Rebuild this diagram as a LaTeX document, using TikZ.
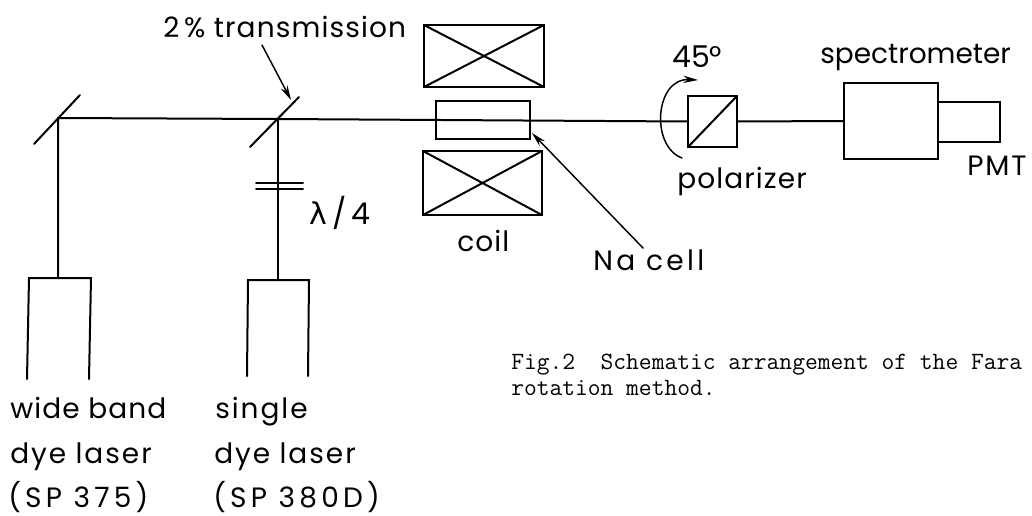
\documentclass[tikz,border=0pt]{standalone}
\usepackage{fontspec}
\newfontfamily\labA{Poppins}
\newfontfamily\labB[LetterSpace=4]{Poppins}
\newfontfamily\labC[LetterSpace=7]{Poppins}
\newfontfamily\labD[LetterSpace=12]{Poppins}
\newfontfamily\labE[LetterSpace=15]{Poppins}
\newfontfamily\lamfont{DejaVu Sans}
\usetikzlibrary{arrows.meta}
\begin{document}
\begin{tikzpicture}[x=0.75pt,y=-0.75pt,
  ln/.style={line width=1.5pt,line cap=round},
  thn/.style={line width=1.1pt,line cap=round},
  lbl/.style={inner sep=0pt,anchor=base west,font=#1\fontsize{21}{23}\selectfont},
  big/.style={inner sep=0pt,anchor=base west,font=\labA\fontsize{22.5}{24}\selectfont},
  captxt/.style={inner sep=0pt,anchor=base west,font=\ttfamily\fontsize{18.6}{21}\selectfont},
  box/.style 2 args={draw,line width=1.5pt,inner sep=0pt,outer sep=0pt,minimum width=#1*0.75pt,minimum height=#2*0.75pt},
  arr/.style={thn,-{Stealth[length=11pt,width=5.5pt]}}]
\useasboundingbox (0,0) rectangle (1032,515);
\clip (0,0) rectangle (1032,515);
% mirrors and points on them
\coordinate (m1a) at (34,144);
\coordinate (m1b) at (80,95);
\coordinate (m1) at (58,118);
\coordinate (m2a) at (250,147);
\coordinate (m2b) at (299,97);
\coordinate (m2) at (278,119);
\draw[ln] (m1a) -- (m1b);
\draw[ln] (m2a) -- (m2b);
% lasers
\coordinate (l1bl) at (27,379);
\coordinate (l1tl) at (29,278);
\coordinate (l1t) at (58,278);
\coordinate (l1tr) at (91,278);
\coordinate (l1br) at (89,379);
\coordinate (l2bl) at (247,376);
\coordinate (l2tl) at (248,280);
\coordinate (l2t) at (278,280);
\coordinate (l2tr) at (309,280);
\coordinate (l2br) at (308,376);
\draw[ln] (l1bl) -- (l1tl) -- (l1tr) -- (l1br);
\draw[ln] (l2bl) -- (l2tl) -- (l2tr) -- (l2br);
% coils and cell
\node[box={120}{62}] (cu) at (484,56) {};
\node[box={119}{64}] (cl) at (482.5,183) {};
\node[box={94}{38}] (cell) at (483,120) {};
\draw[ln] (cu.north west) -- (cu.south east) (cu.south west) -- (cu.north east);
\draw[ln] (cl.north west) -- (cl.south east) (cl.south west) -- (cl.north east);
% polarizer, spectrometer, PMT
\node[box={49}{51}] (pol) at (712.5,121.5) {};
\draw[ln] (pol.south west) -- (pol.north east);
\node[box={94}{76}] (spec) at (891,121) {};
\node[box={62}{40}] (pmt) at (969,122) {};
% beam
\draw[ln] (l1t) -- (m1) -- (m2);
\draw[ln] (m2) -- (pol.west);
\draw[ln] (pol.east) -- (spec.west);
\draw[ln] (l2t) -- (m2);
% wave plate
\coordinate (wa1) at (256,183);
\coordinate (wb1) at (303,183);
\coordinate (wa2) at (256,189);
\coordinate (wb2) at (303,189);
\draw[ln] (wa1) -- (wb1);
\draw[ln] (wa2) -- (wb2);
% labels
\node[lbl=\labB] (t2) at (163,37) {2\,\% transmission};
\node[big] (tlam) at (309,224) {{\lamfont λ}\,/\,4};
\node[lbl=\labB] (tcoil) at (457,251) {coil};
\node[lbl=\labD] (tna) at (593,270) {Na cell};
\node[big] (t45) at (672,67) {45°};
\node[lbl=\labB] (tpol) at (677,188) {polarizer};
\node[lbl=\labA] (tspec) at (820,63) {spectrometer};
\node[lbl=\labC] (tpmt) at (967,175) {PMT};
\node[lbl=\labB] (w1) at (10,418) {wide band};
\node[lbl=\labC] (w2) at (10,463) {dye laser};
\node[lbl=\labE] (w3) at (8,507) {(SP 375)};
\node[lbl=\labC] (s1) at (215,418) {single};
\node[lbl=\labC] (s2) at (214,463) {dye laser};
\node[lbl=\labE] (s3) at (213,507) {(SP 380D)};
\node[captxt] (c1) at (511,369) {Fig.2~~Schematic arrangement of the Fara};
\node[captxt] (c2) at (511,395) {rotation method.};
% pointers
\coordinate (a2s) at (262,45);
\coordinate (a2e) at (291,100);
\draw[arr] (a2s) -- (a2e);
\coordinate (ans) at (643,248);
\coordinate (ane) at (532,133);
\draw[arr] (ans) -- (ane);
% rotation
\coordinate (r1) at (682,158);
\coordinate (r2) at (698,80);
\draw[arr] (r1) .. controls (650,146) and (655,78) .. (r2);
\end{tikzpicture}
\end{document}
